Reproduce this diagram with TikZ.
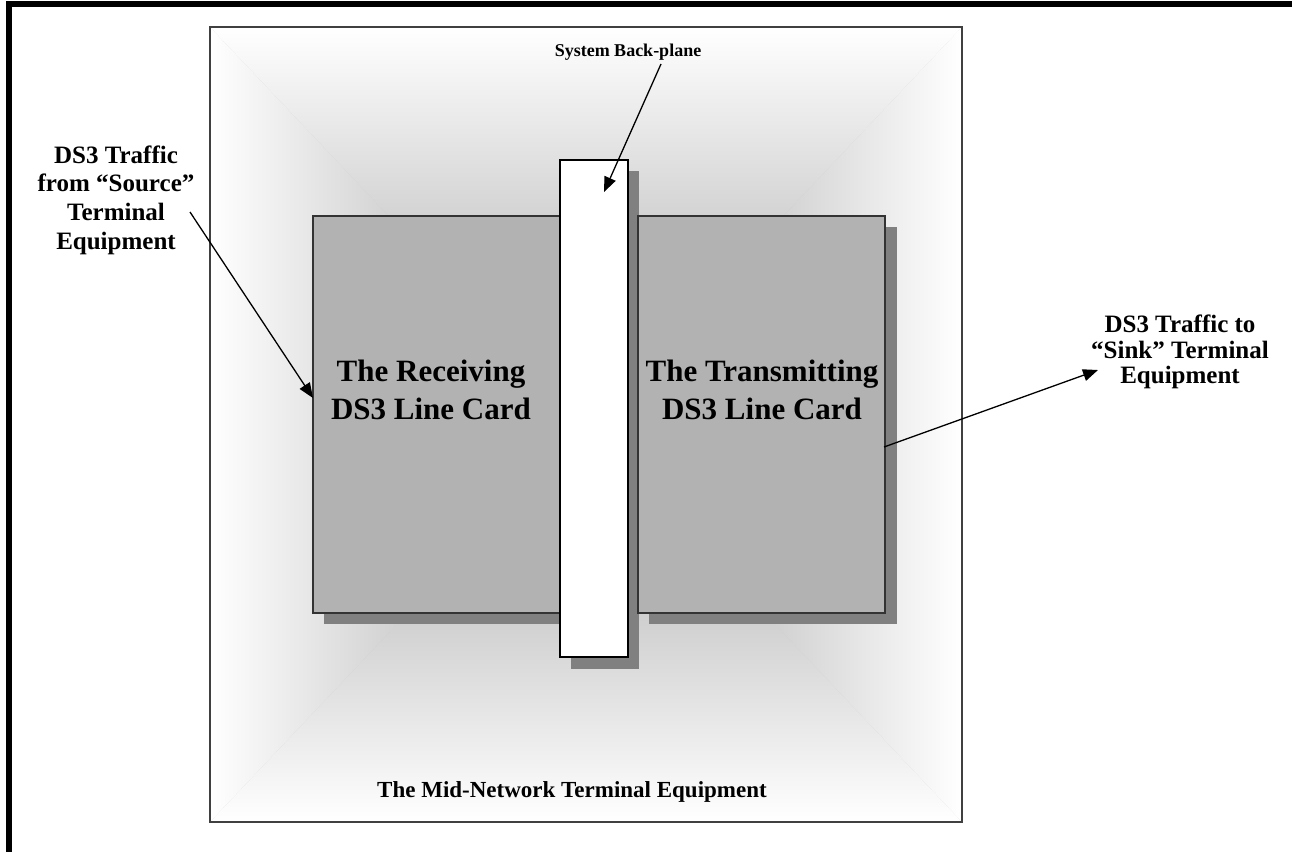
\documentclass[tikz,border=0pt]{standalone}
\usepackage{fontspec}
\setmainfont{Liberation Serif}
\usetikzlibrary{arrows.meta}
\definecolor{cardfill}{gray}{0.70}
\definecolor{shadowgray}{gray}{0.50}
\definecolor{cardline}{gray}{0.20}
\definecolor{outerline}{gray}{0.25}
\definecolor{midgray}{gray}{0.64}
\begin{document}
\begin{tikzpicture}[x=1pt,y=-1pt,
  card/.style={draw=cardline, line width=2pt, fill=cardfill},
  shadowbox/.style={fill=shadowgray},
  lbl/.style={font=\bfseries\fontsize{25}{28.7}\selectfont, align=center, inner sep=0pt},
  cardtext/.style={font=\bfseries\fontsize{31}{38}\selectfont, align=center, inner sep=0pt},
  arr/.style={line width=1.3pt, -{Triangle[length=15pt,width=12pt]}}]
\useasboundingbox (0,0) rectangle (1292,852);
% page border (top and left)
\fill[black] (6,1) rectangle (1292,7);
\fill[black] (6,1) rectangle (12,852);
% outer equipment box with rectangular gradient
\coordinate (ctr) at (586,424.5);
\fill[midgray!60!white] (210,27) rectangle (962,822);
\shade[left color=white, right color=midgray] (210,27) -- (586,424.5) -- (210,822) -- cycle;
\shade[left color=midgray, right color=white] (962,27) -- (586,424.5) -- (962,822) -- cycle;
\shade[top color=white, bottom color=midgray] (210,27) -- (962,27) -- (586,424.5) -- cycle;
\shade[top color=midgray, bottom color=white] (210,822) -- (962,822) -- (586,424.5) -- cycle;
\draw[outerline, line width=1.5pt] (210,27) rectangle (962,822);
% shadows and cards
\fill[shadowgray] (571,171) rectangle (639,669);
\fill[shadowgray] (324,227) rectangle (575,624);
\node[card, anchor=north west, minimum width=263pt, minimum height=397pt, inner sep=0pt] (lcard) at (312,215) {};
\fill[shadowgray] (649,227) rectangle (897,624);
\node[card, anchor=north west, minimum width=247pt, minimum height=397pt, inner sep=0pt] (rcard) at (637,215) {};
\node[draw=black, line width=1.5pt, fill=white, anchor=north west, minimum width=68pt, minimum height=497pt, inner sep=0pt] (bplane) at (559,159) {};
% texts
\node[font=\bfseries\fontsize{18}{21}\selectfont, inner sep=0pt] (sbp) at (628,52) {System Back-plane};
\node[lbl] (src) at (116,200) {DS3 Traffic\\from “Source”\\Terminal\\Equipment};
\node[lbl, font=\bfseries\fontsize{25}{25.5}\selectfont] (sink) at (1180,352) {DS3 Traffic to\\“Sink” Terminal\\Equipment};
\node[cardtext] (rxt) at (431,390) {The Receiving\\DS3 Line Card};
\node[cardtext] (txt) at (762,390) {The Transmitting\\DS3 Line Card};
\node[font=\bfseries\fontsize{23}{26}\selectfont, inner sep=0pt] (mid) at (572,792) {The Mid-Network Terminal Equipment};
% arrows
\coordinate (a1s) at (661,64);
\coordinate (a1e) at (604,192);
\draw[arr] (a1s) -- (a1e);
\coordinate (a2s) at (190,212);
\coordinate (a2e) at (313,398);
\draw[arr] (a2s) -- (a2e);
\coordinate (a3s) at (884,447);
\coordinate (a3e) at (1098,370);
\draw[arr] (a3s) -- (a3e);
\end{tikzpicture}
\end{document}
